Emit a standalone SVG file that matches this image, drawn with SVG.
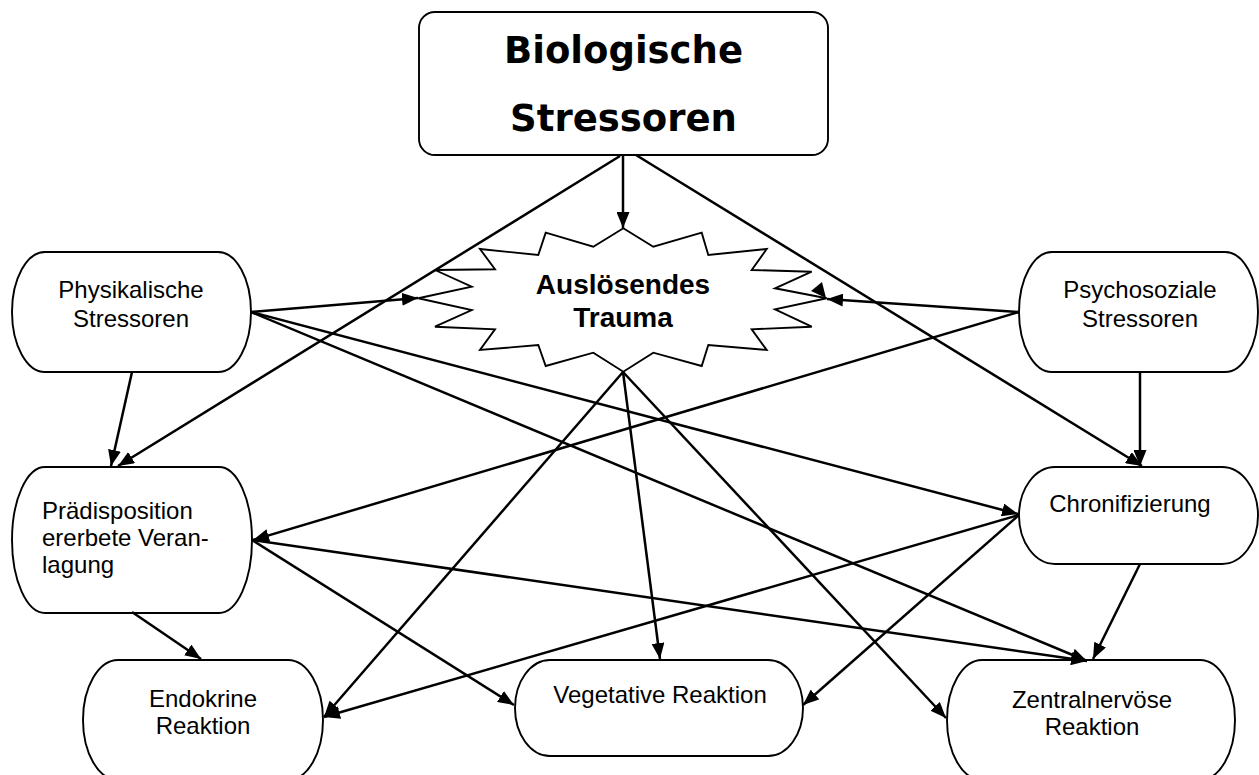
<svg xmlns="http://www.w3.org/2000/svg" width="1259" height="775" viewBox="0 0 1259 775">
<style>
.node{fill:#fff;stroke:#000;stroke-width:1.9}
.t{font-family:"Liberation Sans",Arial,sans-serif;font-size:24px;fill:#000}
.c{text-anchor:middle}
.conn line{stroke:#000;stroke-width:2.5;fill:none}
</style>
<defs>
<marker id="ah" markerUnits="userSpaceOnUse" markerWidth="16" markerHeight="13" refX="16" refY="6.5" orient="auto">
<path d="M0,0 L16,6.5 L0,13 z" fill="#000"/>
</marker>
</defs>
<rect width="1259" height="775" fill="#fff"/>
<g id="bio">
<rect class="node" x="419" y="12" width="409" height="143" rx="16" ry="16"/>
<text x="623.5" y="63" text-anchor="middle" font-family="'DejaVu Sans',Verdana,sans-serif" font-weight="bold" font-size="37">Biologische</text>
<text x="623.5" y="131" text-anchor="middle" font-family="'DejaVu Sans',Verdana,sans-serif" font-weight="bold" font-size="37">Stressoren</text>
</g>
<g id="trauma">
<polygon class="node" points="623.3,228.3 653.3,246.7 701.7,232.7 708.3,255 766.7,249 751.7,270 811.7,271.7 775,288.3 826.7,298.3 775,309.3 811.7,326.7 751.7,329.3 766.7,350 708.3,345 701.7,366 653.3,352.7 623.3,371.7 593.3,352.7 545.7,366 538.3,345 480,350 495,329.3 435,326.7 471.7,310 418.3,298.3 471.7,286.7 435,270 495,269.3 480,249 538.3,255 545.7,232.7 593.3,246.7"/>
<text x="623" y="294" text-anchor="middle" font-family="'Liberation Sans',Arial,sans-serif" font-weight="bold" font-size="28">Auslösendes</text>
<text x="623" y="327" text-anchor="middle" font-family="'Liberation Sans',Arial,sans-serif" font-weight="bold" font-size="28">Trauma</text>
</g>
<g id="phys">
<rect class="node" x="12" y="252" width="239" height="120" rx="33" ry="60"/>
<text class="t c" x="131" y="298">Physikalische</text>
<text class="t c" x="131" y="327">Stressoren</text>
</g>
<g id="psycho">
<rect class="node" x="1019" y="252" width="239" height="120" rx="33" ry="60"/>
<text class="t c" x="1140" y="298">Psychosoziale</text>
<text class="t c" x="1140" y="327">Stressoren</text>
</g>
<g id="praed">
<rect class="node" x="12" y="467" width="240" height="146" rx="33" ry="73"/>
<text class="t" x="42" y="519">Prädisposition</text>
<text class="t" x="42" y="546">ererbete Veran-</text>
<text class="t" x="42" y="573">lagung</text>
</g>
<g id="chron">
<rect class="node" x="1019" y="467" width="239" height="97" rx="36" ry="48.5"/>
<text class="t c" x="1130" y="512">Chronifizierung</text>
</g>
<g id="endo">
<rect class="node" x="83" y="660" width="240" height="120" rx="35" ry="60"/>
<text class="t c" x="203" y="707">Endokrine</text>
<text class="t c" x="203" y="734">Reaktion</text>
</g>
<g id="veget">
<rect class="node" x="515" y="660" width="288" height="96" rx="35" ry="48"/>
<text class="t c" x="660" y="703">Vegetative Reaktion</text>
</g>
<g id="zentral">
<rect class="node" x="947" y="660" width="288" height="120" rx="35" ry="60"/>
<text class="t c" x="1092" y="708">Zentralnervöse</text>
<text class="t c" x="1092" y="735">Reaktion</text>
</g>
<g id="connectors" class="conn">
<line x1="623" y1="155" x2="623" y2="228" marker-end="url(#ah)"/>
<line x1="620" y1="156" x2="118" y2="466" marker-end="url(#ah)"/>
<line x1="636" y1="155" x2="1142" y2="466" marker-end="url(#ah)"/>
<line x1="251" y1="312" x2="418" y2="298" marker-end="url(#ah)"/>
<line x1="251" y1="312" x2="1018" y2="514" marker-end="url(#ah)"/>
<line x1="251" y1="312" x2="1087" y2="661" marker-end="url(#ah)"/>
<line x1="132" y1="372" x2="111" y2="466" marker-end="url(#ah)"/>
<line x1="1019" y1="312" x2="827" y2="299" marker-end="url(#ah)"/>
<line x1="1019" y1="312" x2="253" y2="540" marker-end="url(#ah)"/>
<line x1="1140" y1="372" x2="1140" y2="466" marker-end="url(#ah)"/>
<line x1="623" y1="372" x2="324" y2="717" marker-end="url(#ah)"/>
<line x1="623" y1="372" x2="660" y2="659" marker-end="url(#ah)"/>
<line x1="623" y1="372" x2="946" y2="718" marker-end="url(#ah)"/>
<line x1="252" y1="540" x2="514" y2="705" marker-end="url(#ah)"/>
<line x1="252" y1="540" x2="1087" y2="661" marker-end="url(#ah)"/>
<line x1="132" y1="612" x2="201" y2="659" marker-end="url(#ah)"/>
<line x1="1019" y1="515" x2="324" y2="717" marker-end="url(#ah)"/>
<line x1="1019" y1="515" x2="803" y2="705" marker-end="url(#ah)"/>
<line x1="1140" y1="564" x2="1093" y2="659" marker-end="url(#ah)"/>
<path d="M826,298 L811,291 L822,282 z" fill="#000"/>
</g>
</svg>
